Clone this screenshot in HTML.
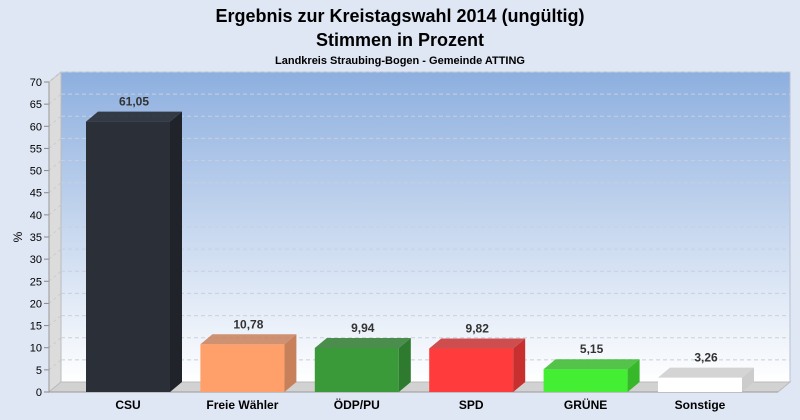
<!DOCTYPE html>
<html><head><meta charset="utf-8"><style>
body{margin:0;background:#dfe6f4;font-family:"Liberation Sans",sans-serif}
</style></head><body>
<svg width="800" height="420" xmlns="http://www.w3.org/2000/svg" style="display:block">
<defs>
<linearGradient id="bg" x1="0" y1="0" x2="0" y2="1"><stop offset="0" stop-color="#8dafdf"/><stop offset="1" stop-color="#ffffff"/></linearGradient>
</defs>
<rect width="800" height="420" fill="#dfe6f4"/>
<text x="400" y="22" text-anchor="middle" font-size="18" font-weight="bold">Ergebnis zur Kreistagswahl 2014 (ungültig)</text>
<text x="400" y="46" text-anchor="middle" font-size="18" font-weight="bold">Stimmen in Prozent</text>
<text x="400" y="64" text-anchor="middle" font-size="11" font-weight="bold">Landkreis Straubing-Bogen - Gemeinde ATTING</text>
<g id="plot"></g>
</svg>
<script>
const categories=["CSU","Freie Wähler","ÖDP/PU","SPD","GRÜNE","Sonstige"];
const values=[61.05,10.78,9.94,9.82,5.15,3.26];
const labels=["61,05","10,78","9,94","9,82","5,15","3,26"];
const colors=["#2a2f38","#ff9f6a","#3a9a3a","#ff3b3b","#44ee33","#ffffff"];
const sides=["#202329","#c8805a","#2e7a2e","#c83030","#36b82a","#cccccc"];
const ticks=[0,5,10,15,20,25,30,35,40,45,50,55,60,65,70];
const NS="http://www.w3.org/2000/svg";
const g=document.getElementById('plot');
const X0=49,Y0=392,X1=778,DX=12,DY=10,PPU=310/70;
const y=v=>Y0-v*PPU;
function el(t,a,n,p){const e=document.createElementNS(NS,t);for(const k in a)e.setAttribute(k,a[k]);


(p||g).appendChild(e);return e;}
el('rect',{x:X0+DX,y:y(70)-DY,width:X1-X0,height:310,fill:'url(#bg)',stroke:'#b8c2d2'},'plot-background');
el('polygon',{points:`${X0},${y(70)} ${X0+DX},${y(70)-DY} ${X0+DX},${Y0-DY} ${X0},${Y0}`,fill:'#dcdcdc',stroke:'#bbb'},'left-wall');
el('polygon',{points:`${X0},${Y0} ${X0+DX},${Y0-DY} ${X1+DX},${Y0-DY} ${X1},${Y0}`,fill:'#d2d2d2',stroke:'#bbb'},'floor');
ticks.forEach(t=>{
 if(t>0){el('line',{x1:X0,y1:y(t),x2:X0+DX,y2:y(t)-DY,stroke:'#ccc','stroke-dasharray':'3,3'},'grid-diag');
 el('line',{x1:X0+DX,y1:y(t)-DY,x2:X1+DX,y2:y(t)-DY,stroke:'#c8d0dc','stroke-dasharray':'4,3'},'gridline');}
 el('line',{x1:X0-5,y1:y(t),x2:X0,y2:y(t),stroke:'#888'},'y-tick');
 const tx=el('text',{x:X0-7,y:y(t)+4,'text-anchor':'end','font-size':11},'y-tick-label');tx.textContent=t;
});
el('line',{x1:X0,y1:y(70),x2:X0,y2:Y0,stroke:'#999'},'y-axis');
el('line',{x1:X0,y1:Y0,x2:X1,y2:Y0,stroke:'#999'},'x-axis');
const yt=el('text',{x:22,y:237,'font-size':12,transform:'rotate(-90 22 237)','text-anchor':'middle'},'y-axis-title');yt.textContent='%';
const step=114.4,bw=84,firstX=86;
categories.forEach((c,i)=>{
 const x=firstX+step*i,cx=x+bw/2,top=y(values[i]);
 el('rect',{x:x,y:top,width:bw,height:Y0-top,fill:colors[i]},'bar-'+i);
 el('polygon',{points:`${x+bw},${top} ${x+bw+DX},${top-DY} ${x+bw+DX},${Y0-DY} ${x+bw},${Y0}`,fill:sides[i]},'bar-side-'+i);
 el('polygon',{points:`${x},${top} ${x+DX},${top-DY} ${x+bw+DX},${top-DY} ${x+bw},${top}`,fill:sides[i],opacity:0.85},'bar-top-'+i);
 const v=el('text',{x:cx+6,y:top-16,'text-anchor':'middle','font-size':12,'font-weight':'bold',fill:'#333'},'value-label');v.textContent=labels[i];
 const l=el('text',{x:cx,y:409,'text-anchor':'middle','font-size':12,'font-weight':'bold'},'x-tick-label');l.textContent=c;
});
</script>
</body></html>
